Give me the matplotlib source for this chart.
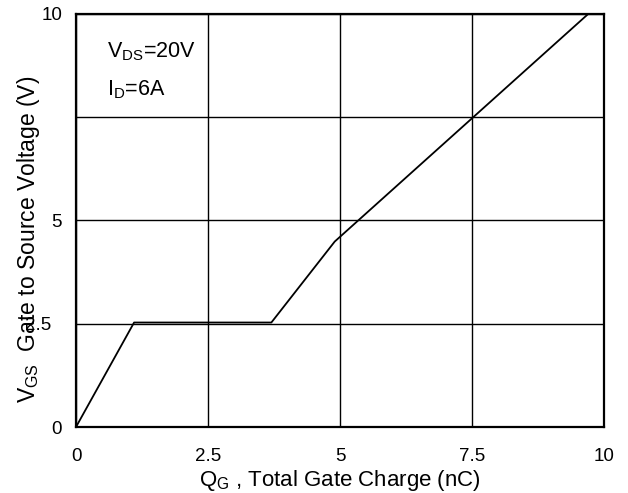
import matplotlib
matplotlib.use("Agg")
import matplotlib.pyplot as plt
from matplotlib.transforms import ScaledTranslation

plt.rcParams['font.family'] = ['Liberation Sans', 'DejaVu Sans']
plt.rcParams['mathtext.fontset'] = 'custom'
plt.rcParams['mathtext.rm'] = 'Liberation Sans'
plt.rcParams['mathtext.it'] = 'Liberation Sans'

qg = [0, 1.1, 3.7, 4.9, 9.7]
vgs = [0, 2.53, 2.53, 4.49, 10.0]
xticks = [0, 2.5, 5, 7.5, 10]
xticklabels = ['0', '2.5', '5', '7.5', '10']
yticks = [0, 2.5, 5, 7.5, 10]
yticklabels = ['0', '2.5', '5', '', '10']

fig = plt.figure(figsize=(6.28, 4.93), dpi=100)
ax = fig.add_axes([76/628, 1-427/493, 528/628, 413/493])
ax.set_xlim(0, 10)
ax.set_ylim(0, 10)
ax.plot(qg, vgs, color='black', lw=1.3, zorder=3)
ax.set_xticks(xticks)
ax.set_xticklabels(xticklabels, fontsize=13.5)
ax.set_yticks(yticks)
ax.set_yticklabels(yticklabels, fontsize=13.5)
ax.tick_params(axis='x', length=0, pad=15)
ax.tick_params(axis='y', length=0, pad=10)
# the 2.5 label sits further left in the reference
lbl = ax.get_yticklabels()[1]
lbl.set_transform(lbl.get_transform() + ScaledTranslation(-11/100, 0, fig.dpi_scale_trans))
ax.grid(True, color='black', lw=1.0)
for s in ax.spines.values():
    s.set_linewidth(1.6)
ax.set_xlabel(r'Q$_{\mathregular{G}}$ , Total Gate Charge (nC)', fontsize=16)
ax.xaxis.set_label_coords(0.5, -0.1)
ax.set_ylabel(r'V$_{\mathregular{GS}}$  Gate to Source Voltage (V)', fontsize=16.5)
ax.yaxis.set_label_coords(-0.064, 0.455)
ax.text(0.059, 0.896, r'V$_{\mathregular{DS}}$=20V', transform=ax.transAxes, fontsize=15.5, va='baseline', ha='left')
ax.text(0.059, 0.804, r'I$_{\mathregular{D}}$=6A', transform=ax.transAxes, fontsize=15.5, va='baseline', ha='left')

fig.savefig('out.png', dpi=100)
